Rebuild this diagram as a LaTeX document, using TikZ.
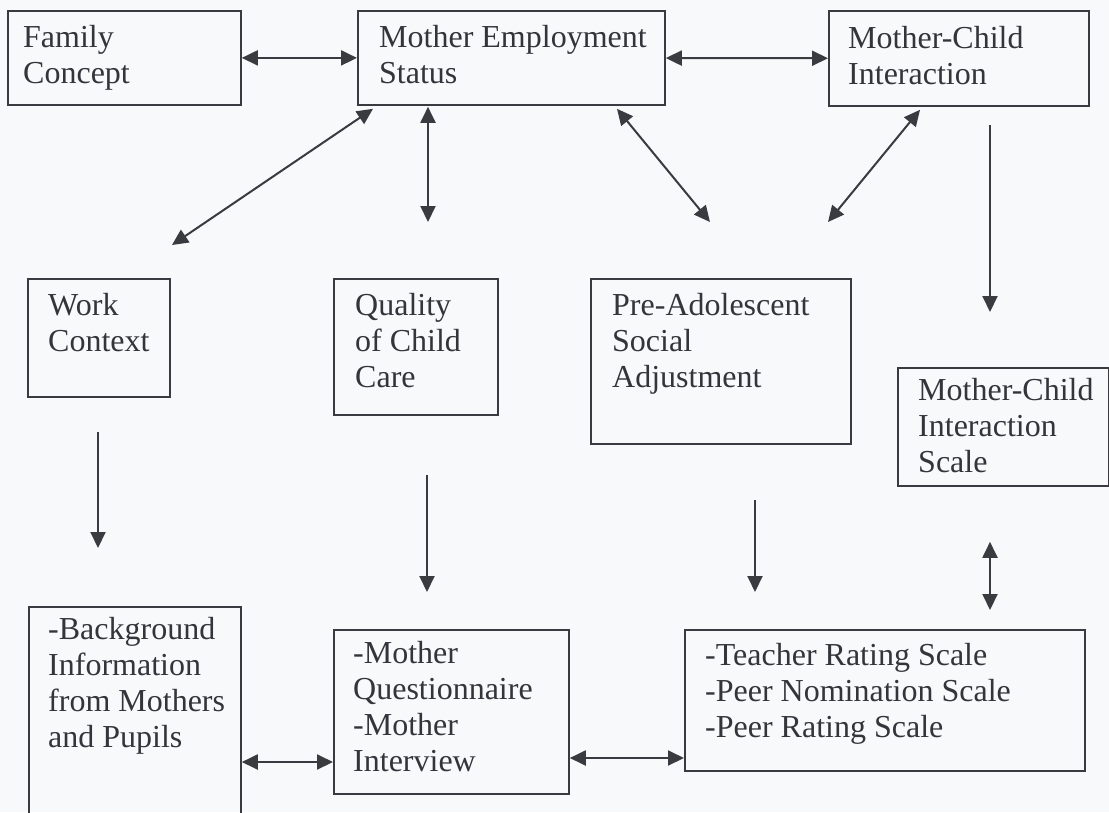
\documentclass[tikz,border=0pt]{standalone}
\usepackage{fontspec}
\setmainfont{Liberation Serif}
\usetikzlibrary{arrows.meta,calc}
\definecolor{inkgray}{HTML}{3A3A40}
\definecolor{paper}{HTML}{F7F9FB}

\begin{document}
\begin{tikzpicture}[x=1pt,y=-1pt,
    box/.style={draw=inkgray,line width=1.8pt,anchor=north west,inner sep=0pt},
    boxtext/.style={anchor=north west,inner sep=0pt,align=left,text=inkgray!90!black,
        font=\fontsize{32}{36}\selectfont,execute at begin node=\strut},
    link/.style={draw=inkgray,line width=2pt,
        {Triangle[length=16pt,width=15pt]}-{Triangle[length=16pt,width=15pt]}},
    oneway/.style={draw=inkgray,line width=2pt,-{Triangle[length=16pt,width=15pt]}}]

        \fill[paper] (0,0) rectangle (1109,812);
        \useasboundingbox (0,0) rectangle (1109,812);

        % top row
        \node[box,minimum width=233pt,minimum height=94pt] (family) at (7,10) {};
        \node[box,minimum width=307pt,minimum height=94pt] (mes) at (357,10) {};
        \node[box,minimum width=260pt,minimum height=95pt] (mci) at (828,10) {};

        \node[boxtext] (family-txt) at ($(family.north west)+(16,15)$) {Family\\Concept};
        \node[boxtext] (mes-txt) at ($(mes.north west)+(22,15)$) {Mother Employment\\Status};
        \node[boxtext] (mci-txt) at ($(mci.north west)+(20,16)$) {Mother-Child\\Interaction};

        % middle row
        \node[box,minimum width=142pt,minimum height=118pt] (work) at (27,278) {};
        \node[box,minimum width=164pt,minimum height=136pt] (quality) at (333,278) {};
        \node[box,minimum width=260pt,minimum height=165pt] (social) at (590,278) {};
        \node[box,minimum width=211pt,minimum height=118pt] (scale) at (897,367) {};

        \node[boxtext] (work-txt) at ($(work.north west)+(21,15)$) {Work\\Context};
        \node[boxtext] (quality-txt) at ($(quality.north west)+(22,15)$) {Quality\\of Child\\Care};
        \node[boxtext] (social-txt) at ($(social.north west)+(22,15)$) {Pre-Adolescent\\Social\\Adjustment};
        \node[boxtext] (scale-txt) at ($(scale.north west)+(21,11)$) {Mother-Child\\Interaction\\Scale};

        % bottom row
        \node[box,minimum width=212pt,minimum height=230pt] (bg) at (28,606) {};
        \node[box,minimum width=235pt,minimum height=164pt] (mq) at (333,629) {};
        \node[box,minimum width=400pt,minimum height=141pt] (trs) at (684,629) {};

        \node[boxtext] (bg-txt) at ($(bg.north west)+(20,11)$) {-Background\\Information\\from Mothers\\and Pupils};
        \node[boxtext] (mq-txt) at ($(mq.north west)+(20,12)$) {-Mother\\Questionnaire\\-Mother\\Interview};
        \node[boxtext] (trs-txt) at ($(trs.north west)+(21,14)$) {-Teacher Rating Scale\\-Peer Nomination Scale\\-Peer Rating Scale};

        % connectors
        \draw[link] (family) -- (mes);
        \draw[link] (mes) -- (mci);
        \draw[link] ($(mes.south west)+(16,3)$) -- ($(work.north west)+(145,-33)$);
        \draw[link] ($(mes.south west)+(71,1)$) -- ($(quality.north west)+(95,-56)$);
        \draw[link] ($(mes.south west)+(260,3)$) -- ($(social.north west)+(120,-56)$);
        \draw[link] ($(mci.south west)+(92,3)$) -- ($(social.north west)+(238,-56)$);
        \draw[oneway] ($(mci.south west)+(162,18)$) -- ($(scale.north west)+(93,-55)$);

        \draw[oneway] ($(work.south west)+(71,34)$) -- ($(bg.north west)+(70,-58)$);
        \draw[oneway] ($(quality.south west)+(94,59)$) -- ($(mq.north west)+(94,-37)$);
        \draw[oneway] ($(social.south west)+(165,55)$) -- ($(trs.north west)+(71,-37)$);
        \draw[link] ($(scale.south west)+(93,55)$) -- ($(trs.north west)+(306,-19)$);

        \draw[link] ($(bg.north east)+(0,156)$) -- ($(mq.north west)+(0,133)$);
        \draw[link] ($(mq.north east)+(0,129)$) -- ($(trs.north west)+(0,129)$);

    \end{tikzpicture}
\end{document}
